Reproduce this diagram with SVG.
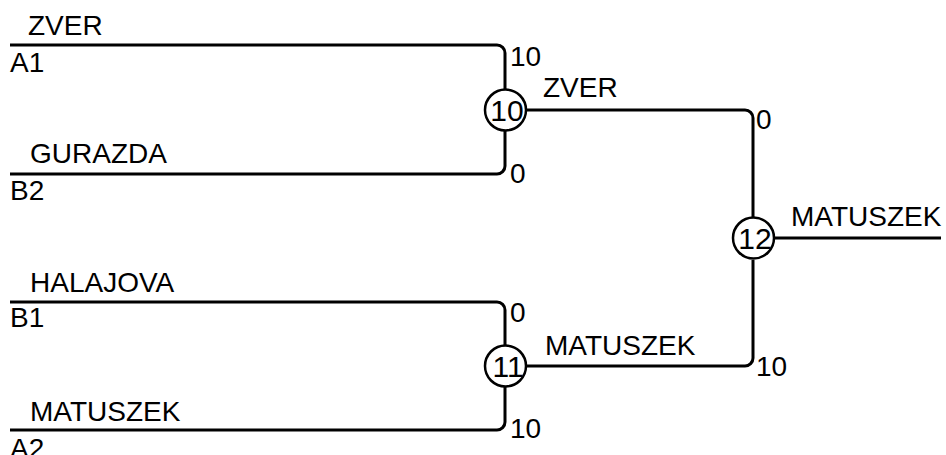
<svg xmlns="http://www.w3.org/2000/svg" width="946" height="455" viewBox="0 0 946 455">
<style>
text{font-family:"Liberation Sans",Arial,sans-serif;font-size:28px;fill:#000}
.c text{text-anchor:middle;font-size:30px}
.line{fill:none;stroke:#000;stroke-width:3}
circle{fill:#fff;stroke:#000;stroke-width:2.5}
</style>
<rect width="946" height="455" fill="#fff"/>
<g id="connectors">
<path class="line" d="M10,45 H497 A8,8 0 0 1 505,53 V89"/>
<path class="line" d="M10,174 H497 A8,8 0 0 0 505,166 V131"/>
<path class="line" d="M526,110 H745 A8,8 0 0 1 753,118 V218"/>
<path class="line" d="M10,302 H497 A8,8 0 0 1 505,310 V345"/>
<path class="line" d="M10,430 H497 A8,8 0 0 0 505,422 V387"/>
<path class="line" d="M526,366 H745 A8,8 0 0 0 753,358 V260"/>
<path class="line" d="M774,238 H941"/>
</g>
<g id="entry-A1"><text x="28" y="35">ZVER</text><text x="10" y="72">A1</text></g>
<g id="entry-B2"><text x="30" y="163">GURAZDA</text><text x="10" y="200">B2</text></g>
<g id="entry-B1"><text x="30" y="292">HALAJOVA</text><text x="10" y="327">B1</text></g>
<g id="entry-A2"><text x="30" y="421">MATUSZEK</text><text x="10" y="458">A2</text></g>
<g id="match-10" class="c"><circle cx="505.5" cy="110" r="20.5"/><text x="507" y="120.5">10</text></g>
<g id="match-11" class="c"><circle cx="505.5" cy="366" r="20.5"/><text x="508" y="377">11</text></g>
<g id="match-12" class="c"><circle cx="753.5" cy="238" r="20.5"/><text x="755" y="248.5">12</text></g>
<g id="scores">
<text x="510" y="66">10</text>
<text x="510" y="183">0</text>
<text x="510" y="322">0</text>
<text x="510" y="438">10</text>
<text x="756" y="129">0</text>
<text x="756" y="376">10</text>
</g>
<g id="winners">
<text x="543" y="97">ZVER</text>
<text x="545" y="355">MATUSZEK</text>
<text x="791" y="226">MATUSZEK</text>
</g>
</svg>
